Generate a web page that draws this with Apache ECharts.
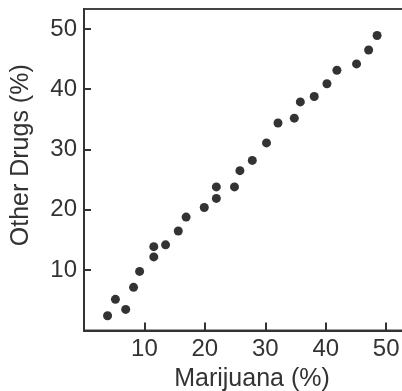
<!DOCTYPE html>
<html>
<head>
<meta charset="utf-8">
<script src="https://cdn.jsdelivr.net/npm/echarts@6/dist/echarts.min.js"></script>
<style>
  html, body { margin: 0; padding: 0; background: #fff; }
  #chart { width: 402px; height: 391px; }
</style>
</head>
<body>
<div id="chart"></div>
<script>
// marijuana use (%) vs other drug use (%), one point per state/school
const marijuana = [3.9, 5.2, 6.9, 8.2, 9.2, 11.55, 11.55, 13.5, 15.6, 16.9, 19.9, 21.9, 21.9, 24.9,
  25.8, 27.85, 30.2, 32.1, 34.8, 35.8, 38.1, 40.2, 41.85, 45.1, 47.1, 48.5];
const otherDrugs = [2.45, 5.17, 3.5, 7.16, 9.8, 12.2, 13.9, 14.2, 16.5, 18.8, 20.4, 21.9, 23.8, 23.8,
  26.5, 28.2, 31.1, 34.4, 35.2, 37.9, 38.8, 40.9, 43.15, 44.2, 46.5, 48.9];

const points = marijuana.map((m, i) => [m, otherDrugs[i]]);

const myChart = echarts.init(document.getElementById("chart"));
const axisColor = "#333";
const fontFamily = "Liberation Sans, Arial, sans-serif";
const tickFormatter = (v) => (v !== 0 && v % 10 === 0 ? String(v) : "");

myChart.setOption({
  animation: false,
  grid: {
    left: 84,
    right: -18,
    top: 9,
    bottom: 60.5,
    containLabel: false,
    outerBoundsMode: "none",
    show: true,
    borderColor: "#444",
    borderWidth: 2,
  },
  xAxis: {
    type: "value",
    min: 0,
    max: 55.6,
    interval: 10,
    name: "Marijuana (%)",
    nameLocation: "middle",
    nameGap: 35,
    nameTextStyle: { color: axisColor, fontSize: 25, fontFamily },
    axisLine: { lineStyle: { color: axisColor, width: 2 } },
    axisTick: { inside: true, length: 8, lineStyle: { color: axisColor, width: 2 } },
    axisLabel: { color: axisColor, fontSize: 24, fontFamily, margin: 7, formatter: tickFormatter },
    splitLine: { show: false },
  },
  yAxis: {
    type: "value",
    min: 0,
    max: 53.3,
    interval: 10,
    name: "Other Drugs (%)",
    nameLocation: "middle",
    nameGap: 50,
    nameTextStyle: { color: axisColor, fontSize: 25, fontFamily, padding: [0, 0, 0, 29] },
    axisLine: { lineStyle: { color: axisColor, width: 2 } },
    axisTick: { inside: true, length: 7, lineStyle: { color: axisColor, width: 2 } },
    axisLabel: { color: axisColor, fontSize: 24, fontFamily, margin: 7, formatter: tickFormatter, showMaxLabel: false },
    splitLine: { show: false },
  },
  series: [
    {
      type: "scatter",
      data: points,
      symbol: "circle",
      symbolSize: 9,
      itemStyle: { color: "#000" },
    },
  ],
});
</script>
</body>
</html>
